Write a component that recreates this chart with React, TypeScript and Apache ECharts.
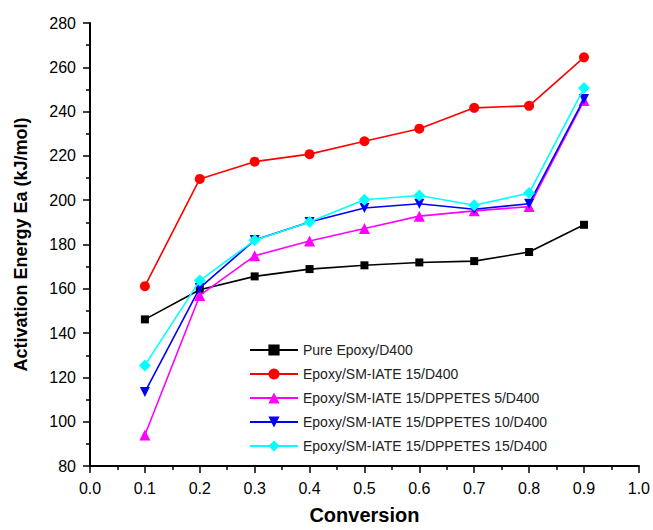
import React, { useEffect, useRef } from "react";
import * as echarts from "echarts";

const conversion = [0.1, 0.2, 0.3, 0.4, 0.5, 0.6, 0.7, 0.8, 0.9];
const pureEpoxy = [146.2, 159.6, 165.6, 168.9, 170.6, 171.9, 172.5, 176.6, 188.9];
const smIate15 = [161.2, 209.6, 217.4, 220.8, 226.6, 232.3, 241.7, 242.6, 264.5];
const dppetes5 = [94.0, 157.0, 174.9, 181.6, 187.2, 192.8, 195.2, 197.1, 245.0];
const dppetes10 = [113.4, 160.4, 182.0, 190.2, 196.5, 198.4, 195.9, 198.4, 245.7];
const dppetes15 = [125.4, 163.7, 181.9, 190.2, 200.2, 202.1, 197.7, 203.2, 250.6];

const seriesNames = [
  "Pure Epoxy/D400",
  "Epoxy/SM-IATE 15/D400",
  "Epoxy/SM-IATE 15/DPPETES 5/D400",
  "Epoxy/SM-IATE 15/DPPETES 10/D400",
  "Epoxy/SM-IATE 15/DPPETES 15/D400",
];
const seriesValues = [pureEpoxy, smIate15, dppetes5, dppetes10, dppetes15];
const seriesColors = ["#000000", "#ff0000", "#ff00ff", "#0000ff", "#00ffff"];
const seriesSymbols = ["rect", "circle", "triangle", "path://M0,0L10,0L5,10Z", "diamond"];
const seriesSymbolSizes = [8, 10, 11, 10, 12];

const FONT = "'Liberation Sans', Arial, sans-serif";

export default function App() {
  const ref = useRef<HTMLDivElement>(null);
  useEffect(() => {
    document.body.style.margin = "0";
    if (!ref.current) return;
    const chart = echarts.init(ref.current, undefined, { renderer: "svg" });
    const axisCommon = {
      axisLine: { show: true, lineStyle: { color: "#000", width: 2 } },
      axisTick: { show: true, inside: false, length: 7, lineStyle: { color: "#000", width: 1.5 } },
      minorTick: { show: true, splitNumber: 2, length: 4, lineStyle: { color: "#000", width: 1.5 } },
      splitLine: { show: false },
      minorSplitLine: { show: false },
    };
    chart.setOption({
      animation: false,
      backgroundColor: "#ffffff",
      textStyle: { fontFamily: FONT },
      grid: { left: 90, right: 13, top: 23, bottom: 60, containLabel: false },
      legend: {
        orient: "vertical",
        left: 244,
        top: 338,
        itemWidth: 48,
        itemHeight: 14,
        itemGap: 10,
        textStyle: { fontSize: 14, color: "#222", fontFamily: FONT },
        data: seriesNames,
      },
      xAxis: {
        type: "value",
        min: 0,
        max: 1,
        interval: 0.1,
        name: "Conversion",
        nameLocation: "middle",
        nameGap: 39,
        nameTextStyle: { fontSize: 20, fontWeight: "bold", color: "#000", fontFamily: FONT },
        axisLabel: {
          fontSize: 16,
          color: "#000",
          margin: 14,
          fontFamily: FONT,
          formatter: (v: number) => v.toFixed(1),
        },
        ...axisCommon,
      },
      yAxis: {
        type: "value",
        min: 80,
        max: 280,
        interval: 20,
        name: "Activation Energy Ea (kJ/mol)",
        nameLocation: "middle",
        nameGap: 60,
        nameTextStyle: { fontSize: 18, fontWeight: "bold", color: "#000", fontFamily: FONT },
        axisLabel: { fontSize: 16, color: "#000", margin: 14, fontFamily: FONT },
        ...axisCommon,
      },
      series: seriesNames.map((name, i) => ({
        name,
        type: "line",
        data: conversion.map((x, j) => [x, seriesValues[i][j]]),
        symbol: seriesSymbols[i],
        symbolSize: seriesSymbolSizes[i],
        showAllSymbol: true,
        lineStyle: { color: seriesColors[i], width: 1.6 },
        itemStyle: { color: seriesColors[i] },
        z: 2 + i,
      })),
    });
    return () => chart.dispose();
  }, []);
  return <div ref={ref} style={{ width: 653, height: 530 }} />;
}
